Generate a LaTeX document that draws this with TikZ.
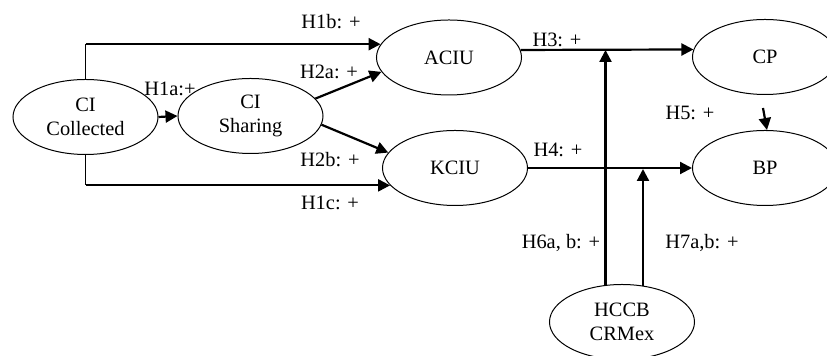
\documentclass[tikz,border=0pt]{standalone}
\usepackage{fontspec}
\setmainfont{Liberation Serif}
\usetikzlibrary{shapes.geometric,arrows.meta}
\begin{document}
\begin{tikzpicture}[x=0.5pt,y=-0.5pt,
 ell/.style={ellipse,draw,line width=0.5pt,minimum width=72.5pt,minimum height=37.5pt,inner sep=0pt,align=center,font=\fontsize{10.2}{12}\selectfont},
 lbl/.style={font=\fontsize{10.2}{12}\selectfont,inner sep=0pt},
 arr/.style={line width=1.1pt,-{Triangle[length=6pt,width=6pt]}},
 thinln/.style={line width=0.5pt}]
\useasboundingbox (0,0) rectangle (827,356);
\fill[white] (0,0) rectangle (827,356);
% nodes
\node[ell] (CIC) at (85.5,117) {CI\\Collected};
\node[ell] (CIS) at (250.5,116) {CI\\Sharing};
\node[ell] (ACIU) at (449,57.5) {ACIU};
\node[ell] (KCIU) at (455,168) {KCIU};
\node[ell] (CP) at (765,57) {CP};
\node[ell] (BP) at (765,168) {BP};
\node[ell] (HCCB) at (622,322) {HCCB\\CRMex};
% connectors
\coordinate (c1b) at (CIC.north |- ACIU.169);
\draw[thinln] (CIC.north) -- (c1b);
\draw[arr] (c1b) -- (ACIU.169);
\coordinate (c1c) at (CIC.south |- KCIU.195);
\draw[thinln] (CIC.south) -- (c1c);
\draw[arr] (c1c) -- (KCIU.195);
\draw[arr] (CIC.east) -- (CIS.west);
\draw[arr] (CIS.15) -- (ACIU.192);
\draw[arr] (CIS.-7) -- (KCIU.167);
\draw[arr] (ACIU.6) -- (CP.174);
\draw[arr] (KCIU.east) -- (BP.west);
\draw[arr] ([xshift=-1pt,yshift=-6.5pt]CP.south) -- ([xshift=1pt]BP.north);
\coordinate (h6) at (ACIU.6 -| HCCB.114);
\draw[arr] (HCCB.114) -- (h6);
\coordinate (h7) at (KCIU.east -| HCCB.60);
\draw[arr] (HCCB.60) -- ([yshift=-0.5pt]h7);
% labels
\node[lbl] at (331,22) {H1b: +};
\node[lbl] at (329,72) {H2a: +};
\node[lbl] at (170,89) {H1a:+};
\node[lbl] at (330,160) {H2b: +};
\node[lbl] at (330,203) {H1c: +};
\node[lbl] at (557,40) {H3: +};
\node[lbl] at (558,150) {H4: +};
\node[lbl] at (690,113) {H5: +};
\node[lbl] at (561,243) {H6a, b: +};
\node[lbl] at (702,243) {H7a,b: +};
\end{tikzpicture}
\end{document}
